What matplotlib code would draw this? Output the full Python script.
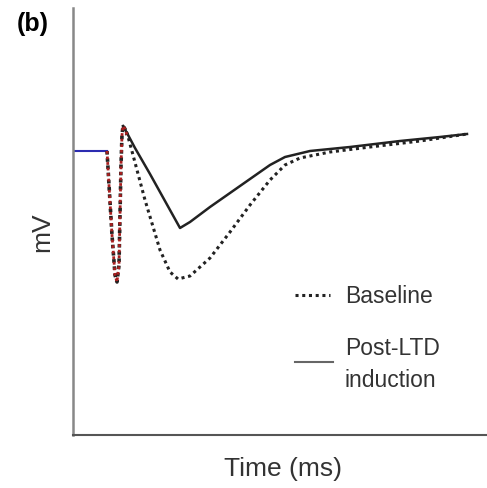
import matplotlib
matplotlib.use("Agg")
import matplotlib.pyplot as plt
import numpy as np

plt.rcParams['font.family'] = ['Liberation Sans', 'DejaVu Sans']

# arbitrary units (time, mV)
pre_t = [0, 34]
pre_v = [284, 284]

stim_t = [34, 36, 39, 42, 44, 46, 47, 48, 49, 50, 52, 54]
stim_v = [284, 250, 200, 160, 153, 170, 220, 270, 300, 309, 306, 300]

post_t = [50, 54, 62, 77, 92, 107, 117, 137, 167, 197, 212, 237, 277, 327, 367, 394]
post_v = [309, 302, 287, 261, 234, 207, 213, 228, 249, 270, 278, 284, 288, 294, 298, 301]

base_t = [50, 54, 60, 72, 87, 97, 105, 117, 137, 157, 177, 197, 212, 227, 257, 297, 347, 394]
base_v = [309, 302, 280, 235, 185, 163, 156, 159, 177, 203, 230, 255, 270, 277, 283, 288, 294, 301]

fig = plt.figure(figsize=(4.87, 4.88), dpi=100)
ax = fig.add_axes([73/487, (488-435)/488, (487-73)/487, (435-8)/488])
ax.set_xlim(0, 414)
ax.set_ylim(0, 427)

ax.plot(pre_t, pre_v, color='#2b2bb0', lw=1.5)
ax.plot(base_t, base_v, color='#222222', lw=2.2, linestyle=(0, (1, 1.2)))
ax.plot(post_t, post_v, color='#222222', lw=1.8)
ax.plot(stim_t, stim_v, color='#222222', lw=2.6, linestyle=(0, (1, 1.0)))
ax.plot(stim_t, stim_v, color='#a82020', lw=2.0, linestyle=(0, (1, 1.0)))

for s in ['top', 'right']:
    ax.spines[s].set_visible(False)
ax.spines['left'].set_color('#888888')
ax.spines['bottom'].set_color('#555555')
ax.spines['left'].set_linewidth(1.8)
ax.spines['bottom'].set_linewidth(1.5)
ax.set_xticks([])
ax.set_yticks([])

# legend drawn manually (figure pixel positions converted to axes coords)
ax.plot([222/414, 257/414], [140/427, 140/427], transform=ax.transAxes,
        color='#222222', lw=2.2, linestyle=(0, (1, 1.2)))
ax.plot([222/414, 260/414], [73/427, 73/427], transform=ax.transAxes,
        color='#666666', lw=1.5)

txt = dict(fontsize=16.5, ha='left', va='baseline', color='#333333')
fig.text(345/487, 1 - 303/488, 'Baseline', **txt)
fig.text(345/487, 1 - 355/488, 'Post-LTD', **txt)
fig.text(345/487, 1 - 387/488, 'induction', **txt)

fig.text(17/487, 1 - 24/488, '(b)', fontsize=18, fontweight='bold', va='center', ha='left')
fig.text(42/487, 1 - 232/488, 'mV', fontsize=19, rotation=90, va='center', ha='center', color='#333333')
fig.text(283/487, 1 - 469/488, 'Time (ms)', fontsize=19, va='center', ha='center', color='#333333')

fig.savefig('out.png', dpi=100)
